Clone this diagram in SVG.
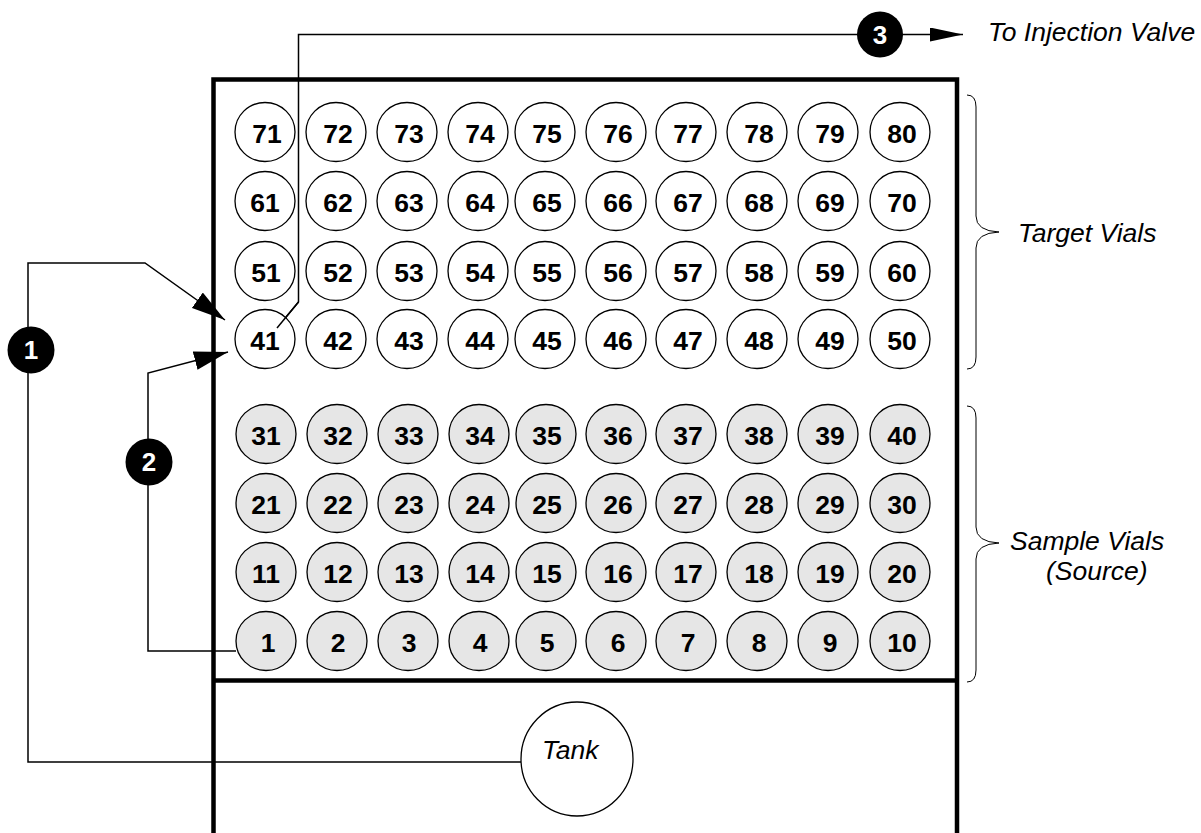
<svg xmlns="http://www.w3.org/2000/svg" width="1201" height="833" viewBox="0 0 1201 833">
<defs>
<style>
.vial{stroke:#000;stroke-width:1.3}
.vt{fill:#fff}
.vs{fill:#e6e6e6}
.num{font-family:"Liberation Sans",Arial,sans-serif;font-weight:bold;font-size:26.5px;fill:#000;text-anchor:middle}
.wnum{font-family:"Liberation Sans",Arial,sans-serif;font-weight:bold;font-size:26px;fill:#fff;text-anchor:middle}
.lbl{font-family:"Liberation Sans",Arial,sans-serif;font-style:italic;font-size:26.5px;fill:#000}
.conn{fill:none;stroke:#000;stroke-width:1.5}
.box{fill:none;stroke:#000;stroke-width:4.5}
.brace{fill:none;stroke:#000;stroke-width:1}
.badge{fill:#000}
</style>
<marker id="ahBig" markerUnits="userSpaceOnUse" markerWidth="34" markerHeight="19" refX="34" refY="9.5" orient="auto" viewBox="0 0 34 19">
<path d="M0,0 L34,9.5 L0,19 z" fill="#000"/>
</marker>
<marker id="ahSmall" markerUnits="userSpaceOnUse" markerWidth="33" markerHeight="14" refX="33" refY="7" orient="auto" viewBox="0 0 33 14">
<path d="M0,0 L33,7 L0,14 z" fill="#000"/>
</marker>
</defs>
<rect width="1201" height="833" fill="#fff"/>

<g id="tray">
<path class="box" d="M213.5,833 V79.5 H957 V833"/>
<line class="box" x1="213.5" y1="680.5" x2="957" y2="680.5"/>
</g>

<g id="connectors">
<path class="conn" d="M521,762 H28 V263 H145 L225,320" marker-end="url(#ahBig)"/>
<path class="conn" d="M236,651 H148 V373 L228,352" marker-end="url(#ahBig)"/>
<path class="conn" d="M277,328 L298.5,302 V34.5 H963" marker-end="url(#ahSmall)"/>
</g>

<g id="tank">
<ellipse cx="577" cy="759" rx="56" ry="57" fill="#fff" stroke="#000" stroke-width="1.3"/>
<text class="lbl" x="542" y="759">Tank</text>
</g>

<g id="step1"><circle class="badge" cx="31" cy="350" r="23.5"/><text class="wnum" x="31" y="359">1</text></g>
<g id="step2"><circle class="badge" cx="149" cy="462" r="23.5"/><text class="wnum" x="149" y="471">2</text></g>
<g id="step3"><circle class="badge" cx="880" cy="34.5" r="23"/><text class="wnum" x="880" y="43.5">3</text></g>

<g id="label-injection"><text class="lbl" x="988" y="41">To Injection Valve</text></g>

<g id="target-brace">
<path class="brace" d="M967,95 Q976,95 976,107 L976,216 Q976,231 999,232 Q976,233 976,248 L976,357 Q976,369 967,369"/>
<text class="lbl" x="1018" y="242">Target Vials</text>
</g>
<g id="sample-brace">
<path class="brace" d="M967,406 Q976,406 976,418 L976,527 Q976,542 999,543 Q976,544 976,559 L976,670 Q976,682 967,682"/>
<text class="lbl" x="1010" y="550">Sample Vials</text>
<text class="lbl" x="1046" y="580">(Source)</text>
</g>

<g id="vials-target">
<g id="v71"><ellipse class="vial vt" cx="265" cy="132" rx="30" ry="29.5"/><text class="num" x="267" y="142.5">71</text></g>
<g id="v72"><ellipse class="vial vt" cx="336" cy="132" rx="30" ry="29.5"/><text class="num" x="338" y="142.5">72</text></g>
<g id="v73"><ellipse class="vial vt" cx="407" cy="132" rx="30" ry="29.5"/><text class="num" x="409" y="142.5">73</text></g>
<g id="v74"><ellipse class="vial vt" cx="478" cy="132" rx="30" ry="29.5"/><text class="num" x="480" y="142.5">74</text></g>
<g id="v75"><ellipse class="vial vt" cx="545" cy="132" rx="30" ry="29.5"/><text class="num" x="547" y="142.5">75</text></g>
<g id="v76"><ellipse class="vial vt" cx="616" cy="132" rx="30" ry="29.5"/><text class="num" x="618" y="142.5">76</text></g>
<g id="v77"><ellipse class="vial vt" cx="686" cy="132" rx="30" ry="29.5"/><text class="num" x="688" y="142.5">77</text></g>
<g id="v78"><ellipse class="vial vt" cx="757" cy="132" rx="30" ry="29.5"/><text class="num" x="759" y="142.5">78</text></g>
<g id="v79"><ellipse class="vial vt" cx="828" cy="132" rx="30" ry="29.5"/><text class="num" x="830" y="142.5">79</text></g>
<g id="v80"><ellipse class="vial vt" cx="900" cy="132" rx="30" ry="29.5"/><text class="num" x="902" y="142.5">80</text></g>

<g id="v61"><ellipse class="vial vt" cx="265" cy="201" rx="30" ry="29.5"/><text class="num" x="265" y="211.5">61</text></g>
<g id="v62"><ellipse class="vial vt" cx="336" cy="201" rx="30" ry="29.5"/><text class="num" x="338" y="211.5">62</text></g>
<g id="v63"><ellipse class="vial vt" cx="407" cy="201" rx="30" ry="29.5"/><text class="num" x="409" y="211.5">63</text></g>
<g id="v64"><ellipse class="vial vt" cx="478" cy="201" rx="30" ry="29.5"/><text class="num" x="480" y="211.5">64</text></g>
<g id="v65"><ellipse class="vial vt" cx="545" cy="201" rx="30" ry="29.5"/><text class="num" x="547" y="211.5">65</text></g>
<g id="v66"><ellipse class="vial vt" cx="616" cy="201" rx="30" ry="29.5"/><text class="num" x="618" y="211.5">66</text></g>
<g id="v67"><ellipse class="vial vt" cx="686" cy="201" rx="30" ry="29.5"/><text class="num" x="688" y="211.5">67</text></g>
<g id="v68"><ellipse class="vial vt" cx="757" cy="201" rx="30" ry="29.5"/><text class="num" x="759" y="211.5">68</text></g>
<g id="v69"><ellipse class="vial vt" cx="828" cy="201" rx="30" ry="29.5"/><text class="num" x="830" y="211.5">69</text></g>
<g id="v70"><ellipse class="vial vt" cx="900" cy="201" rx="30" ry="29.5"/><text class="num" x="902" y="211.5">70</text></g>

<g id="v51"><ellipse class="vial vt" cx="265" cy="271" rx="30" ry="29.5"/><text class="num" x="266" y="281.5">51</text></g>
<g id="v52"><ellipse class="vial vt" cx="336" cy="271" rx="30" ry="29.5"/><text class="num" x="338" y="281.5">52</text></g>
<g id="v53"><ellipse class="vial vt" cx="407" cy="271" rx="30" ry="29.5"/><text class="num" x="409" y="281.5">53</text></g>
<g id="v54"><ellipse class="vial vt" cx="478" cy="271" rx="30" ry="29.5"/><text class="num" x="480" y="281.5">54</text></g>
<g id="v55"><ellipse class="vial vt" cx="545" cy="271" rx="30" ry="29.5"/><text class="num" x="547" y="281.5">55</text></g>
<g id="v56"><ellipse class="vial vt" cx="616" cy="271" rx="30" ry="29.5"/><text class="num" x="618" y="281.5">56</text></g>
<g id="v57"><ellipse class="vial vt" cx="686" cy="271" rx="30" ry="29.5"/><text class="num" x="688" y="281.5">57</text></g>
<g id="v58"><ellipse class="vial vt" cx="757" cy="271" rx="30" ry="29.5"/><text class="num" x="759" y="281.5">58</text></g>
<g id="v59"><ellipse class="vial vt" cx="828" cy="271" rx="30" ry="29.5"/><text class="num" x="830" y="281.5">59</text></g>
<g id="v60"><ellipse class="vial vt" cx="900" cy="271" rx="30" ry="29.5"/><text class="num" x="902" y="281.5">60</text></g>

<g id="v41"><ellipse class="vial vt" cx="265" cy="339" rx="30" ry="29.5"/><text class="num" x="265" y="349.5">41</text></g>
<g id="v42"><ellipse class="vial vt" cx="336" cy="339" rx="30" ry="29.5"/><text class="num" x="338" y="349.5">42</text></g>
<g id="v43"><ellipse class="vial vt" cx="407" cy="339" rx="30" ry="29.5"/><text class="num" x="409" y="349.5">43</text></g>
<g id="v44"><ellipse class="vial vt" cx="478" cy="339" rx="30" ry="29.5"/><text class="num" x="480" y="349.5">44</text></g>
<g id="v45"><ellipse class="vial vt" cx="545" cy="339" rx="30" ry="29.5"/><text class="num" x="547" y="349.5">45</text></g>
<g id="v46"><ellipse class="vial vt" cx="616" cy="339" rx="30" ry="29.5"/><text class="num" x="618" y="349.5">46</text></g>
<g id="v47"><ellipse class="vial vt" cx="686" cy="339" rx="30" ry="29.5"/><text class="num" x="688" y="349.5">47</text></g>
<g id="v48"><ellipse class="vial vt" cx="757" cy="339" rx="30" ry="29.5"/><text class="num" x="759" y="349.5">48</text></g>
<g id="v49"><ellipse class="vial vt" cx="828" cy="339" rx="30" ry="29.5"/><text class="num" x="830" y="349.5">49</text></g>
<g id="v50"><ellipse class="vial vt" cx="900" cy="339" rx="30" ry="29.5"/><text class="num" x="902" y="349.5">50</text></g>
</g>

<g id="vials-sample">
<g id="v31"><ellipse class="vial vs" cx="266" cy="434" rx="30" ry="29.5"/><text class="num" x="266" y="444.5">31</text></g>
<g id="v32"><ellipse class="vial vs" cx="337" cy="434" rx="30" ry="29.5"/><text class="num" x="338" y="444.5">32</text></g>
<g id="v33"><ellipse class="vial vs" cx="408" cy="434" rx="30" ry="29.5"/><text class="num" x="409" y="444.5">33</text></g>
<g id="v34"><ellipse class="vial vs" cx="479" cy="434" rx="30" ry="29.5"/><text class="num" x="480" y="444.5">34</text></g>
<g id="v35"><ellipse class="vial vs" cx="546" cy="434" rx="30" ry="29.5"/><text class="num" x="547" y="444.5">35</text></g>
<g id="v36"><ellipse class="vial vs" cx="616" cy="434" rx="30" ry="29.5"/><text class="num" x="618" y="444.5">36</text></g>
<g id="v37"><ellipse class="vial vs" cx="686" cy="434" rx="30" ry="29.5"/><text class="num" x="688" y="444.5">37</text></g>
<g id="v38"><ellipse class="vial vs" cx="757" cy="434" rx="30" ry="29.5"/><text class="num" x="759" y="444.5">38</text></g>
<g id="v39"><ellipse class="vial vs" cx="828" cy="434" rx="30" ry="29.5"/><text class="num" x="830" y="444.5">39</text></g>
<g id="v40"><ellipse class="vial vs" cx="900" cy="434" rx="30" ry="29.5"/><text class="num" x="902" y="444.5">40</text></g>

<g id="v21"><ellipse class="vial vs" cx="266" cy="503" rx="30" ry="29.5"/><text class="num" x="266" y="513.5">21</text></g>
<g id="v22"><ellipse class="vial vs" cx="337" cy="503" rx="30" ry="29.5"/><text class="num" x="338" y="513.5">22</text></g>
<g id="v23"><ellipse class="vial vs" cx="408" cy="503" rx="30" ry="29.5"/><text class="num" x="409" y="513.5">23</text></g>
<g id="v24"><ellipse class="vial vs" cx="479" cy="503" rx="30" ry="29.5"/><text class="num" x="480" y="513.5">24</text></g>
<g id="v25"><ellipse class="vial vs" cx="546" cy="503" rx="30" ry="29.5"/><text class="num" x="547" y="513.5">25</text></g>
<g id="v26"><ellipse class="vial vs" cx="616" cy="503" rx="30" ry="29.5"/><text class="num" x="618" y="513.5">26</text></g>
<g id="v27"><ellipse class="vial vs" cx="686" cy="503" rx="30" ry="29.5"/><text class="num" x="688" y="513.5">27</text></g>
<g id="v28"><ellipse class="vial vs" cx="757" cy="503" rx="30" ry="29.5"/><text class="num" x="759" y="513.5">28</text></g>
<g id="v29"><ellipse class="vial vs" cx="828" cy="503" rx="30" ry="29.5"/><text class="num" x="830" y="513.5">29</text></g>
<g id="v30"><ellipse class="vial vs" cx="900" cy="503" rx="30" ry="29.5"/><text class="num" x="902" y="513.5">30</text></g>

<g id="v11"><ellipse class="vial vs" cx="266" cy="572" rx="30" ry="29.5"/><text class="num" x="266" y="582.5">11</text></g>
<g id="v12"><ellipse class="vial vs" cx="337" cy="572" rx="30" ry="29.5"/><text class="num" x="338" y="582.5">12</text></g>
<g id="v13"><ellipse class="vial vs" cx="408" cy="572" rx="30" ry="29.5"/><text class="num" x="409" y="582.5">13</text></g>
<g id="v14"><ellipse class="vial vs" cx="479" cy="572" rx="30" ry="29.5"/><text class="num" x="480" y="582.5">14</text></g>
<g id="v15"><ellipse class="vial vs" cx="546" cy="572" rx="30" ry="29.5"/><text class="num" x="547" y="582.5">15</text></g>
<g id="v16"><ellipse class="vial vs" cx="616" cy="572" rx="30" ry="29.5"/><text class="num" x="618" y="582.5">16</text></g>
<g id="v17"><ellipse class="vial vs" cx="686" cy="572" rx="30" ry="29.5"/><text class="num" x="688" y="582.5">17</text></g>
<g id="v18"><ellipse class="vial vs" cx="757" cy="572" rx="30" ry="29.5"/><text class="num" x="759" y="582.5">18</text></g>
<g id="v19"><ellipse class="vial vs" cx="828" cy="572" rx="30" ry="29.5"/><text class="num" x="830" y="582.5">19</text></g>
<g id="v20"><ellipse class="vial vs" cx="900" cy="572" rx="30" ry="29.5"/><text class="num" x="902" y="582.5">20</text></g>

<g id="v1"><ellipse class="vial vs" cx="266" cy="641" rx="30" ry="29.5"/><text class="num" x="268" y="651.5">1</text></g>
<g id="v2"><ellipse class="vial vs" cx="337" cy="641" rx="30" ry="29.5"/><text class="num" x="338" y="651.5">2</text></g>
<g id="v3"><ellipse class="vial vs" cx="408" cy="641" rx="30" ry="29.5"/><text class="num" x="409" y="651.5">3</text></g>
<g id="v4"><ellipse class="vial vs" cx="479" cy="641" rx="30" ry="29.5"/><text class="num" x="480" y="651.5">4</text></g>
<g id="v5"><ellipse class="vial vs" cx="546" cy="641" rx="30" ry="29.5"/><text class="num" x="547" y="651.5">5</text></g>
<g id="v6"><ellipse class="vial vs" cx="616" cy="641" rx="30" ry="29.5"/><text class="num" x="618" y="651.5">6</text></g>
<g id="v7"><ellipse class="vial vs" cx="686" cy="641" rx="30" ry="29.5"/><text class="num" x="688" y="651.5">7</text></g>
<g id="v8"><ellipse class="vial vs" cx="757" cy="641" rx="30" ry="29.5"/><text class="num" x="759" y="651.5">8</text></g>
<g id="v9"><ellipse class="vial vs" cx="828" cy="641" rx="30" ry="29.5"/><text class="num" x="830" y="651.5">9</text></g>
<g id="v10"><ellipse class="vial vs" cx="900" cy="641" rx="30" ry="29.5"/><text class="num" x="902" y="651.5">10</text></g>
</g>

<g id="connector-overlay">
<path class="conn" d="M277,328 L298.5,302"/>
</g>
</svg>
